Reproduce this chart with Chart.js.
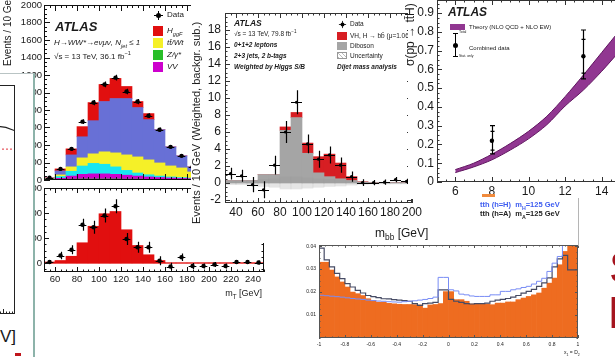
<!DOCTYPE html>
<html>
<head>
<meta charset="utf-8">
<title>ATLAS Higgs results</title>
<script src="https://cdn.jsdelivr.net/npm/chart.js@4.4.1/dist/chart.umd.min.js"></script>
<style>
  html, body { margin: 0; padding: 0; }
  body { width: 615px; height: 357px; position: relative; overflow: hidden; background: #fff;
    font-family: "Liberation Sans", Arial, Helvetica, sans-serif; color: #1a1a1a; }
  .panel { position: absolute; overflow: hidden; background: #fff; }
  .panel canvas { position: absolute; }
  .txt { position: absolute; white-space: nowrap; line-height: 1; }
  .up { transform-origin: 0 0; transform: rotate(-90deg); }
  .box { position: absolute; }
  .atlas { font-weight: bold; font-style: italic; }
  sub, sup { font-size: 70%; line-height: 0; }
  .dmark { position: absolute; width: 9px; height: 9px; margin: -4.5px 0 0 -4.5px;
    background: linear-gradient(#000, #000) center / 1px 100% no-repeat, linear-gradient(#000, #000) center / 100% 1px no-repeat; }
  .dmark::after { content: ''; position: absolute; left: 2px; top: 2px; width: 5px; height: 5px; border-radius: 50%; background: #000; }
</style>
</head>
<body>

<!-- H -> WW*, m_T (upper stack + lower signal panel) -->
<div class="panel" style="left:0;top:0;width:272px;height:300px;z-index:1;background:transparent">
  <canvas id="mtUpper" width="270" height="186" style="left:0;top:0"></canvas>
  <canvas id="mtLower" width="270" height="117" style="left:0;top:183px"></canvas>
</div>
<div class="txt up" style="left:3px;top:66px;font-size:10px;z-index:2">Events / 10 GeV</div>
<div class="txt atlas" style="left:55px;top:20px;font-size:13px;z-index:2">ATLAS</div>
<div class="txt" style="left:54px;top:39px;font-size:8px;font-style:italic;z-index:2">H→WW*→eνμν, N<sub>jet</sub> ≤ 1</div>
<div class="txt" style="left:54px;top:53px;font-size:8px;z-index:2">√s = 13 TeV, 36.1 fb<sup>−1</sup></div>
<div class="dmark" style="left:158px;top:15px;z-index:2"></div>
<div class="txt" style="left:167px;top:11px;font-size:8px;z-index:2">Data</div>
<div class="box" style="left:153px;top:26px;width:10px;height:10px;background:rgb(225,15,15);z-index:2"></div>
<div class="txt" style="left:167px;top:27px;font-size:8px;font-style:italic;z-index:2">H<sub>ggF</sub></div>
<div class="box" style="left:153px;top:38px;width:10px;height:10px;background:rgb(245,240,40);z-index:2"></div>
<div class="txt" style="left:167px;top:39px;font-size:8px;font-style:italic;z-index:2">tt̄/Wt</div>
<div class="box" style="left:153px;top:50px;width:10px;height:10px;background:rgb(40,190,40);z-index:2"></div>
<div class="txt" style="left:167px;top:51px;font-size:8px;font-style:italic;z-index:2">Z/γ*</div>
<div class="box" style="left:153px;top:62px;width:10px;height:10px;background:rgb(205,0,205);z-index:2"></div>
<div class="txt" style="left:167px;top:63px;font-size:8px;font-style:italic;z-index:2">VV</div>
<div class="txt" style="left:200px;width:62px;text-align:right;top:289px;font-size:9px;z-index:2">m<sub>T</sub> [GeV]</div>

<!-- cut-off plot on the far left -->
<div class="panel" style="left:0;top:73px;width:33px;height:284px;border-top:1px solid #b9c4c4;border-right:2px solid #8db3aa;z-index:3">
  <canvas id="frag" width="61" height="229" style="left:-46px;top:11px"></canvas>
</div>
<div class="txt" style="left:-44px;width:60px;text-align:right;top:328px;font-size:17px;z-index:4">[GeV]</div>
<div class="box" style="left:15px;top:353px;width:6px;height:3px;background:#c0151c;z-index:4"></div>

<!-- VH, H -> bb, m_bb -->
<div class="panel" style="left:191px;top:0;width:232px;height:243px;z-index:5">
  <canvas id="mbb" width="232" height="222" style="left:0;top:0"></canvas>
</div>
<div class="txt up" style="left:191px;top:224px;font-size:11px;z-index:6">Events / 10 GeV (Weighted, backgr. sub.)</div>
<div class="txt atlas" style="left:234px;top:19px;font-size:8.5px;z-index:6">ATLAS</div>
<div class="txt" style="left:234px;top:31px;font-size:6.5px;z-index:6">√s = 13 TeV, 79.8 fb<sup>−1</sup></div>
<div class="txt" style="left:234px;top:42px;font-size:6.5px;font-style:italic;font-weight:bold;z-index:6">0+1+2 leptons</div>
<div class="txt" style="left:234px;top:53px;font-size:6.5px;font-style:italic;font-weight:bold;z-index:6">2+3 jets, 2 b-tags</div>
<div class="txt" style="left:234px;top:64px;font-size:6.5px;font-style:italic;font-weight:bold;z-index:6">Weighted by Higgs S/B</div>
<div class="dmark" style="left:342px;top:24px;z-index:6;transform:scale(0.8)"></div>
<div class="txt" style="left:350px;top:21px;font-size:6.5px;z-index:6">Data</div>
<div class="box" style="left:337px;top:32px;width:10px;height:8px;background:rgb(215,30,35);z-index:6"></div>
<div class="txt" style="left:350px;top:33px;font-size:6.5px;z-index:6">VH, H → bb̄ (μ=1.06)</div>
<div class="box" style="left:337px;top:42px;width:10px;height:8px;background:rgb(165,165,165);z-index:6"></div>
<div class="txt" style="left:350px;top:43px;font-size:6.5px;z-index:6">Diboson</div>
<div class="box" style="left:337px;top:52px;width:10px;height:7px;border:1px solid #999;box-sizing:border-box;background:repeating-linear-gradient(45deg,#bbb 0 1px,#fff 1px 3px);z-index:6"></div>
<div class="txt" style="left:350px;top:53px;font-size:6.5px;z-index:6">Uncertainty</div>
<div class="txt" style="left:337px;top:64px;font-size:6.5px;font-style:italic;font-weight:bold;z-index:6">Dijet mass analysis</div>

<!-- CP test, x1 = D2 -->
<div class="panel" style="left:290px;top:232px;width:292px;height:125px;z-index:5">
  <canvas id="d2" width="292" height="125" style="left:0;top:0"></canvas>
</div>
<div class="txt" style="left:564px;top:350px;font-size:5px;z-index:6">x<sub>1</sub> = D<sub>2</sub></div>

<!-- ttH cross-section vs sqrt(s) -->
<div class="panel" style="left:408px;top:0;width:207px;height:199px;z-index:7">
  <canvas id="tth" width="212" height="200" style="left:0;top:0"></canvas>
</div>
<div class="txt up" style="left:404px;top:66px;font-size:12px;z-index:8">σ(pp → tt̄H) [pb]</div>
<div class="txt atlas" style="left:448px;top:6px;font-size:12px;z-index:8">ATLAS</div>
<div class="box" style="left:450px;top:24px;width:15px;height:6px;background:rgb(145,55,145);z-index:8"></div>
<div class="txt" style="left:469px;top:24px;font-size:6px;z-index:8">Theory (NLO QCD + NLO EW)</div>
<div class="box" style="left:455px;top:33px;width:1px;height:24px;background:#000;z-index:8"></div>
<div class="box" style="left:453px;top:33px;width:5px;height:1px;background:#000;z-index:8"></div>
<div class="box" style="left:453px;top:56px;width:5px;height:1px;background:#000;z-index:8"></div>
<div class="box" style="left:453px;top:43px;width:5px;height:5px;border-radius:50%;background:#000;z-index:8"></div>
<div class="txt" style="left:459px;top:31px;font-size:3.5px;z-index:8">Total</div>
<div class="txt" style="left:459px;top:55px;font-size:3.5px;z-index:8">Stat. only</div>
<div class="txt" style="left:469px;top:45px;font-size:6px;z-index:8">Combined data</div>

<!-- labels on top of everything -->
<div class="txt" style="left:375px;top:227px;font-size:12px;z-index:9">m<sub>bb</sub> [GeV]</div>
<div class="box" style="left:482px;top:194px;width:13px;height:3px;background:#f08a3c;z-index:9"></div>
<div class="txt" style="left:480px;top:201px;font-size:7.5px;font-weight:bold;color:#3d5cf0;z-index:9">tth (h=H)&nbsp; m<sub>H</sub>=125 GeV</div>
<div class="txt" style="left:480px;top:210px;font-size:7.5px;font-weight:bold;color:#222;z-index:9">tth (h=A)&nbsp; m<sub>A</sub>=125 GeV</div>
<div class="box" style="left:578px;top:198px;width:1px;height:48px;background:#b5b5b5;z-index:9"></div>
<div class="txt" style="left:609px;top:246px;font-size:44px;color:rgb(165,20,30);z-index:9">S</div>
<div class="txt" style="left:608px;top:291px;font-size:44px;color:rgb(165,20,30);z-index:9">E</div>

<script>
// --- Dados: H -> WW*, distribuição de m_T (painel superior) ---
const mtBins = [55, 65, 75, 85, 95, 105, 115, 125, 135, 145, 155, 165, 175, 185];
const mtZgamma = [3, 8, 10, 12, 12, 12, 12, 10, 10, 8, 8, 6, 6, 5];
const mtVV = [3, 12, 35, 53, 58, 58, 53, 45, 35, 27, 20, 16, 12, 10];
const mtMisId = [4, 20, 55, 95, 120, 110, 85, 55, 35, 25, 17, 13, 10, 7];
const mtTop = [5, 18, 50, 93, 109, 142, 160, 177, 184, 170, 150, 126, 110, 70];
const mtWW = [7, 46, 137, 241, 379, 575, 621, 644, 564, 460, 380, 218, 138, 58];
const mtHiggs = [3, 23, 69, 116, 207, 195, 230, 138, 69, 69, 0, 0, 0, 0];
const mtData = [25, 127, 356, 667, 885, 1092, 1170, 1011, 897, 735, 575, 379, 276, 150];
const mtDataErr = [5, 11, 19, 26, 30, 33, 34, 32, 30, 27, 24, 19, 17, 12];
const mtXTicks = [60, 80, 100, 120, 140, 160, 180, 200, 220, 240];
const mtYTicks = [0, 200, 400, 600, 800, 1000, 1200, 1400, 1600, 1800, 2000];

// --- Painel inferior: dados menos fundo ---
const sigBins = [55, 65, 75, 85, 95, 105, 115, 125, 135, 145, 155, 165, 175, 185, 195, 205, 215, 225, 235, 245];
const sigHiggs = [4, 10, 27, 81, 147, 197, 206, 133, 70, 33, 10, 0, 0, 0, 0, 0, 0, 0, 0, 0];
const sigData = [4, 30, 53, 153, 143, 190, 227, 96, 63, 63, 9, -14, 23, -12, -12, -6, -12, 4, 4, 2];
const sigErr = [8, 15, 18, 24, 26, 28, 28, 24, 22, 22, 18, 15, 15, 12, 10, 10, 10, 8, 8, 8];
const sigRange = [50, 250];
const sigYTicks = [0, 100, 200, 300];

// --- VH, H -> bb: massa do dijato ---
const mbbBins = [35, 45, 55, 65, 75, 85, 95, 105, 115, 125, 135, 145, 155, 165, 175, 185, 195];
const mbbDiboson = [0.3, 0.3, 0.3, 1.0, 1.0, 6.2, 7.7, 3.5, 1.2, 0.75, 0.5, 0.3, 0.1, 0.05, 0.05, 0.05, 0.05];
const mbbVH = [0, 0, 0, 0, 0, 0.4, 0.6, 1.2, 1.9, 2.65, 1.85, 0.45, 0.05, 0, 0, 0, 0];
const mbbUnc = [0.2, 0.2, 0.3, 0.4, 0.5, 0.7, 0.7, 0.6, 0.5, 0.4, 0.35, 0.25, 0.15, 0.1, 0.1, 0.1, 0.1];
const mbbData = [1.1, 0.85, -0.2, -0.8, 2.1, 6.0, 9.5, 4.6, 2.8, 3.3, 2.1, 0.75, 0.05, 0.05, 0.1, 0.4, 0.2];
const mbbErr = [0.7, 0.7, 0.9, 1.0, 1.1, 1.3, 1.4, 1.1, 1.0, 1.0, 0.9, 0.6, 0.4, 0.3, 0.3, 0.3, 0.3];
const mbbXTicks = [40, 60, 80, 100, 120, 140, 160, 180, 200];
const mbbYTicks = [-2, 0, 2, 4, 6, 8, 10, 12, 14, 16, 18];

// --- ttH: secção de choque vs sqrt(s) ---
const rootS = [6, 7, 8, 9, 10, 11, 12, 13, 14, 15];
const tthTheoryUp = [0.066, 0.10, 0.148, 0.205, 0.27, 0.35, 0.455, 0.57, 0.69, 0.81];
const tthTheoryDown = [0.05, 0.08, 0.118, 0.17, 0.23, 0.305, 0.405, 0.49, 0.59, 0.70];
const tthEnergy = [8, 13];
const tthMeasured = [0.22, 0.67];
const tthTotUp = [0.08, 0.14];
const tthTotDown = [0.07, 0.12];
const tthStat = [0.05, 0.09];
const tthXTicks = [6, 8, 10, 12, 14];
const tthYTicks = [0, 0.1, 0.2, 0.3, 0.4, 0.5, 0.6, 0.7, 0.8, 0.9];

// --- x1 = D2 (50 bins de -1 a 1) ---
const d2BinWidth = 0.04;
const d2Orange = [
  0.033, 0.033, 0.0296, 0.0266, 0.0244, 0.0222, 0.0200, 0.0193, 0.0185, 0.0171,
  0.0163, 0.0156, 0.0156, 0.0151, 0.0149, 0.0147, 0.0146, 0.0146, 0.0145, 0.0144,
  0.0130, 0.0144, 0.0146, 0.0150, 0.0202, 0.0202, 0.0167, 0.0167, 0.0160, 0.0148,
  0.0148, 0.0148, 0.0148, 0.0145, 0.0152, 0.0152, 0.0157, 0.0157, 0.0167, 0.0174,
  0.0181, 0.0188, 0.0196, 0.0217, 0.0239, 0.0261, 0.0319, 0.0377, 0.0427, 0.0413];
const d2HiggsH = [
  0.0188, 0.0186, 0.0184, 0.0182, 0.0180, 0.0178, 0.0175, 0.0172, 0.0170, 0.0168,
  0.0165, 0.0163, 0.0161, 0.0160, 0.0158, 0.0157, 0.0156, 0.0158, 0.0160, 0.0162,
  0.0165, 0.0168, 0.0172, 0.0178, 0.0264, 0.0264, 0.0210, 0.0205, 0.0191, 0.0188,
  0.0183, 0.0181, 0.0181, 0.0181, 0.0188, 0.0188, 0.0203, 0.0203, 0.0210, 0.0214,
  0.0220, 0.0225, 0.0235, 0.0247, 0.0260, 0.0290, 0.0326, 0.0355, 0.0420, 0.0427];
const d2HiggsA = [
  0.0413, 0.0391, 0.0340, 0.0310, 0.0281, 0.0259, 0.0237, 0.0222, 0.0207, 0.0196,
  0.0185, 0.0180, 0.0176, 0.0171, 0.0170, 0.0167, 0.0165, 0.0163, 0.0160, 0.0150,
  0.0142, 0.0150, 0.0152, 0.0155, 0.0210, 0.0210, 0.0168, 0.0160, 0.0155, 0.0150,
  0.0148, 0.0150, 0.0150, 0.0152, 0.0160, 0.0165, 0.0168, 0.0172, 0.0178, 0.0185,
  0.0195, 0.0203, 0.0212, 0.0225, 0.0240, 0.0262, 0.0310, 0.0345, 0.0360, 0.0297];
const d2XTicks = [-1, -0.8, -0.6, -0.4, -0.2, 0, 0.2, 0.4, 0.6, 0.8, 1];
const d2YTicks = [0.01, 0.02, 0.03, 0.04];

// --- Fragmento cortado à esquerda ---
const fragX = [0, 7, 8.5, 10];
const fragCurve = [0.82, 0.82, 0.815, 0.80];
const fragRef = [0.72, 0.72, 0.72, 0.72];
const fragTicks = [2, 4, 6, 8, 10];

// --- Cores ---
const FONT = '"Liberation Sans", Arial, Helvetica, sans-serif';
const red = 'rgb(225,15,15)';
const ggfBlue = 'rgb(104,112,214)';
const yellow = 'rgb(245,240,40)';
const cyan = 'rgb(25,230,240)';
const magenta = 'rgb(205,0,205)';
const green = 'rgb(40,190,40)';
const vhRed = 'rgb(215,30,35)';
const dibosonGray = 'rgb(165,165,165)';
const purple = 'rgb(145,55,145)';
const darkPurple = 'rgb(95,20,95)';
const orange = 'rgb(238,108,32)';
const lineBlue = 'rgb(120,140,245)';
const lineDark = 'rgb(70,75,100)';

Chart.defaults.font.family = FONT;
Chart.defaults.color = '#1a1a1a';

// Moldura estilo ROOT com marcas para dentro
const rootFrame = {
  id: 'rootFrame',
  afterDatasetsDraw(chart, args, o) {
    const { ctx, chartArea: a } = chart;
    ctx.save();
    ctx.strokeStyle = o.color || '#111';
    ctx.lineWidth = 1;
    ctx.strokeRect(Math.round(a.left) + 0.5, Math.round(a.top) + 0.5,
      Math.round(a.right - a.left) - 1, Math.round(a.bottom - a.top) - 1);
    const major = o.major ?? 5, minor = o.minor ?? 2.5;
    ctx.beginPath();
    ['x', 'y'].forEach(id => {
      const s = chart.scales[id];
      if (!s || !s.ticks.length) return;
      const vals = s.ticks.map(t => t.value);
      const marks = vals.map(v => [v, major]);
      if (vals.length > 1) {
        const step = (vals[1] - vals[0]) / (o.nMinor ?? 5);
        const start = vals[0] - step * Math.floor((vals[0] - s.min) / step + 1e-6);
        for (let v = start; v <= s.max + 1e-9; v += step) marks.push([v, minor]);
      }
      marks.forEach(([v, len]) => {
        if (v < s.min - 1e-9 || v > s.max + 1e-9) return;
        const p = Math.round(s.getPixelForValue(v)) + 0.5;
        if (id === 'x') {
          ctx.moveTo(p, a.bottom); ctx.lineTo(p, a.bottom - len);
          if (o.mirror) { ctx.moveTo(p, a.top); ctx.lineTo(p, a.top + len); }
        } else {
          ctx.moveTo(a.left, p); ctx.lineTo(a.left + len, p);
          if (o.mirror) { ctx.moveTo(a.right, p); ctx.lineTo(a.right - len, p); }
        }
      });
    });
    ctx.stroke();
    ctx.restore();
  }
};

// Barras de erro dos pontos de dados
const errorBars = {
  id: 'errorBars',
  afterDatasetsDraw(chart) {
    const { ctx, chartArea: a } = chart;
    const xs = chart.scales.x, ys = chart.scales.y;
    chart.data.datasets.forEach(ds => {
      if (!ds.errHi) return;
      ctx.save();
      ctx.beginPath();
      ctx.rect(a.left, a.top, a.right - a.left, a.bottom - a.top);
      ctx.clip();
      ctx.strokeStyle = '#000';
      ctx.lineWidth = ds.errLine || 1.2;
      ctx.beginPath();
      ds.data.forEach((d, j) => {
        const px = Math.round(xs.getPixelForValue(d.x)) + 0.5;
        const hi = ys.getPixelForValue(d.y + ds.errHi[j]);
        const lo = ys.getPixelForValue(d.y - ds.errLo[j]);
        ctx.moveTo(px, hi); ctx.lineTo(px, lo);
        if (ds.xHalf) {
          const py = Math.round(ys.getPixelForValue(d.y)) + 0.5;
          ctx.moveTo(xs.getPixelForValue(d.x - ds.xHalf), py);
          ctx.lineTo(xs.getPixelForValue(d.x + ds.xHalf), py);
        }
        if (ds.cap) {
          ctx.moveTo(px - ds.cap, hi); ctx.lineTo(px + ds.cap, hi);
          ctx.moveTo(px - ds.cap, lo); ctx.lineTo(px + ds.cap, lo);
        }
        if (ds.statHi) {
          const sh = ys.getPixelForValue(d.y + ds.statHi[j]);
          const sl = ys.getPixelForValue(d.y - ds.statLo[j]);
          ctx.moveTo(px - 2, sh); ctx.lineTo(px + 2, sh);
          ctx.moveTo(px - 2, sl); ctx.lineTo(px + 2, sl);
        }
      });
      ctx.stroke();
      ctx.restore();
    });
  }
};

// --- Funções auxiliares ---
function pts(xs, ys) { return xs.map((x, i) => ({ x, y: ys[i] })); }

function axis(min, max, tickVals, size, fontSize, opt = {}) {
  return {
    type: 'linear', min, max, offset: false,
    stacked: opt.stacked || false,
    grid: { display: false, drawTicks: false },
    border: { display: false },
    ticks: {
      display: opt.labels !== false,
      font: { size: fontSize },
      color: '#1a1a1a',
      padding: opt.pad ?? 3,
      autoSkip: false, maxRotation: 0, minRotation: 0,
      includeBounds: false,
      callback: v => String(v)
    },
    afterBuildTicks: s => { s.ticks = tickVals.map(v => ({ value: v })); },
    afterFit: s => {
      if (s.isHorizontal()) s.height = size; else s.width = size;
      s.paddingLeft = s.paddingRight = s.paddingTop = s.paddingBottom = 0;
    }
  };
}

function options(x, y, padding, frame) {
  return {
    responsive: false, animation: false, events: [],
    layout: { padding, autoPadding: false },
    plugins: { legend: { display: false }, tooltip: { enabled: false }, rootFrame: frame },
    scales: { x, y }
  };
}

const barStyle = { type: 'bar', barPercentage: 1, categoryPercentage: 1, borderWidth: 0 };
function bars(label, xs, ys, color, extra) {
  return Object.assign({}, barStyle, { label, data: pts(xs, ys), backgroundColor: color }, extra);
}
function points(label, xs, ys, up, down, extra) {
  return Object.assign({
    type: 'line', label, data: pts(xs, ys), showLine: false, pointRadius: 2.2,
    pointBackgroundColor: '#000', pointBorderColor: '#000', borderColor: '#000', pointBorderWidth: 0,
    order: -1, errHi: up, errLo: down
  }, extra);
}
function steps(label, vals, color, width) {
  const edges = vals.map((_, i) => -1 + i * d2BinWidth).concat([1]);
  return {
    type: 'line', label, stepped: 'after', fill: false, pointRadius: 0,
    borderColor: color, borderWidth: width,
    data: edges.map((x, i) => ({ x, y: vals[Math.min(i, vals.length - 1)] }))
  };
}

// --- H -> WW*, painel superior ---
new Chart(document.getElementById('mtUpper'), {
  type: 'bar',
  data: { datasets: [
    points('Data', mtBins, mtData, mtDataErr, mtDataErr, { xHalf: 3.5 }),
    bars('Z/γ*', mtBins, mtZgamma, green),
    bars('VV', mtBins, mtVV, magenta),
    bars('Mis-Id', mtBins, mtMisId, cyan),
    bars('tt/Wt', mtBins, mtTop, yellow),
    bars('WW', mtBins, mtWW, ggfBlue),
    bars('H ggF', mtBins, mtHiggs, red)
  ] },
  options: options(
    axis(50, 250, mtXTicks, 5, 9.5, { labels: false, stacked: true }),
    axis(0, 2000, mtYTicks, 44, 9.5, { stacked: true, pad: 2 }),
    { left: 0, right: 6, top: 5, bottom: 1 },
    { major: 6, minor: 3, nMinor: 4, mirror: true }),
  plugins: [rootFrame, errorBars]
});

// --- H -> WW*, painel inferior ---
new Chart(document.getElementById('mtLower'), {
  type: 'bar',
  data: { datasets: [
    points('Data - Bkg', sigBins, sigData, sigErr, sigErr, { xHalf: 3.5 }),
    { type: 'line', label: 'zero', data: sigRange.map(x => ({ x, y: 0 })), borderColor: red,
      borderWidth: 1.2, pointRadius: 0, fill: false },
    bars('H ggF', sigBins, sigHiggs, red)
  ] },
  options: options(
    axis(50, 250, mtXTicks, 28, 9.5, { pad: 2 }),
    axis(-36, 300, sigYTicks, 44, 9.5, { pad: 2 }),
    { left: 0, right: 6, top: 5, bottom: 0 },
    { major: 5, minor: 2.5, nMinor: 4, mirror: true }),
  plugins: [rootFrame, errorBars]
});

// --- Fragmento à esquerda ---
new Chart(document.getElementById('frag'), {
  type: 'line',
  data: { datasets: [
    { data: pts(fragX, fragCurve), borderColor: '#222', borderWidth: 1.2, pointRadius: 0 },
    { data: pts(fragX, fragRef), borderColor: '#e0303a', borderWidth: 1, borderDash: [2, 2], pointRadius: 0 }
  ] },
  options: options(
    axis(0, 10, fragTicks, 0, 5, { labels: false }),
    axis(0, 1, [0, 1], 0, 5, { labels: false }),
    { left: 0, right: 0, top: 0, bottom: 0 },
    { major: 5, minor: 2.5, nMinor: 4, color: '#222' }),
  plugins: [rootFrame]
});

// --- VH, H -> bb ---
new Chart(document.getElementById('mbb'), {
  type: 'bar',
  data: { datasets: [
    points('Data', mbbBins, mbbData, mbbErr, mbbErr, { xHalf: 5, pointRadius: 1.6 }),
    Object.assign({}, barStyle, {
      label: 'Uncertainty', grouped: false, stack: 'unc', order: -0.5,
      data: mbbBins.map((x, i) => ({ x, y: [-mbbUnc[i], mbbUnc[i]] })),
      backgroundColor: 'rgba(150,150,150,0.25)'
    }),
    bars('Diboson', mbbBins, mbbDiboson, dibosonGray),
    bars('VH, H→bb', mbbBins, mbbVH, vhRed)
  ] },
  options: options(
    axis(30, 200, mbbXTicks, 19, 12, { stacked: true, pad: 2 }),
    axis(-2.35, 20, mbbYTicks, 34, 12, { stacked: true, pad: 4 }),
    { left: 0, right: 11, top: 13, bottom: 0 },
    { major: 5, minor: 2.5, nMinor: 4, mirror: true, color: '#333' }),
  plugins: [rootFrame, errorBars]
});

// --- ttH ---
new Chart(document.getElementById('tth'), {
  type: 'line',
  data: { datasets: [
    points('Combined data', tthEnergy, tthMeasured, tthTotUp, tthTotDown,
      { cap: 2.5, statHi: tthStat, statLo: tthStat }),
    { label: 'Theory low', data: pts(rootS, tthTheoryDown), borderColor: darkPurple, borderWidth: 1,
      pointRadius: 0, fill: false, tension: 0.3 },
    { label: 'Theory (NLO QCD + NLO EW)', data: pts(rootS, tthTheoryUp), borderColor: darkPurple,
      borderWidth: 1, pointRadius: 0, backgroundColor: purple, fill: '-1', tension: 0.3 }
  ] },
  options: options(
    axis(5, 15, tthXTicks, 18, 12, { pad: 2 }),
    axis(0, 0.97, tthYTicks, 29, 12, { pad: 3 }),
    { left: 0, right: 0, top: 0, bottom: 0 },
    { major: 5, minor: 2.5, nMinor: 4, mirror: true, color: '#333' }),
  plugins: [rootFrame, errorBars]
});

// --- x1 = D2 ---
new Chart(document.getElementById('d2'), {
  type: 'bar',
  data: { datasets: [
    steps('tth (h=H)', d2HiggsH, lineBlue, 1),
    steps('tth (h=A)', d2HiggsA, lineDark, 1.2),
    bars('background', d2Orange.map((_, i) => -1 + (i + 0.5) * d2BinWidth), d2Orange, orange)
  ] },
  options: options(
    axis(-1, 1, d2XTicks, 19, 5, { pad: 4 }),
    axis(0, 0.0405, d2YTicks, 29, 5, { pad: 3 }),
    { left: 0, right: 4, top: 13, bottom: 0 },
    { major: 3, minor: 1.5, nMinor: 4, mirror: true, color: '#555' }),
  plugins: [rootFrame]
});
</script>
</body>
</html>
